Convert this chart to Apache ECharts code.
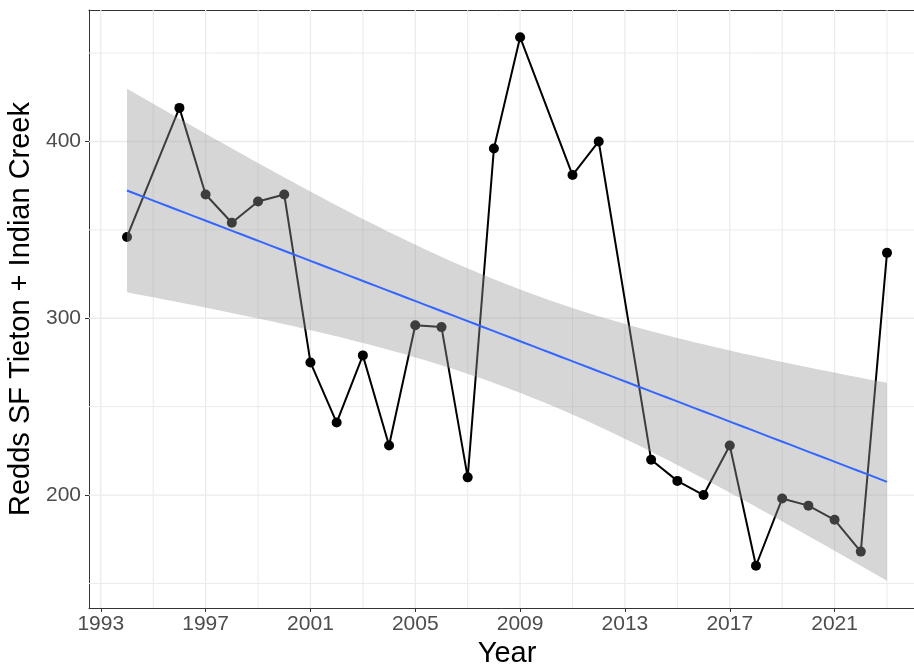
<!DOCTYPE html>
<html>
<head>
<meta charset="utf-8">
<script src="https://cdn.jsdelivr.net/npm/echarts@6/dist/echarts.min.js"></script>
<style>
  html, body { margin: 0; padding: 0; background: #ffffff; }
  #chart { width: 914px; height: 665px; }
</style>
</head>
<body>
<div id="chart"></div>
<script>
// Redd counts per survey year (SF Tieton + Indian Creek)
const years = [1994, 1996, 1997, 1998, 1999, 2000, 2001, 2002, 2003, 2004, 2005, 2006, 2007, 2008, 2009,
               2011, 2012, 2014, 2015, 2016, 2017, 2018, 2019, 2020, 2021, 2022, 2023];
const redds = [346, 419, 370, 354, 366, 370, 275, 241, 279, 228, 296, 295, 210, 396, 459,
               381, 400, 220, 208, 200, 228, 160, 198, 194, 186, 168, 337];

// Axis ticks and grid positions
const xMajorTicks = [1993, 1997, 2001, 2005, 2009, 2013, 2017, 2021];
const xMinorGrid = [1995, 1999, 2003, 2007, 2011, 2015, 2019, 2023];
const yMajorTicks = [200, 300, 400];
const yMinorGrid = [150, 250, 350, 450];

// Ordinary least squares fit with a 95% confidence band, evaluated on a fine grid
function linearFit(xs, ys, steps) {
  const n = xs.length;
  const mx = xs.reduce((s, v) => s + v, 0) / n;
  const my = ys.reduce((s, v) => s + v, 0) / n;
  let sxx = 0, sxy = 0;
  for (let i = 0; i < n; i++) {
    sxx += (xs[i] - mx) * (xs[i] - mx);
    sxy += (xs[i] - mx) * (ys[i] - my);
  }
  const b = sxy / sxx;
  const a = my - b * mx;
  let rss = 0;
  for (let i = 0; i < n; i++) {
    const r = ys[i] - (a + b * xs[i]);
    rss += r * r;
  }
  const s = Math.sqrt(rss / (n - 2));
  const tq = 2.059539; // t quantile 0.975, 25 degrees of freedom
  const x0 = Math.min(...xs), x1 = Math.max(...xs);
  const out = [];
  for (let k = 0; k < steps; k++) {
    const x = x0 + (x1 - x0) * k / (steps - 1);
    const fit = a + b * x;
    const se = s * Math.sqrt(1 / n + (x - mx) * (x - mx) / sxx);
    out.push({ x: x, fit: fit, lo: fit - tq * se, hi: fit + tq * se });
  }
  return out;
}

const band = linearFit(years, redds, 80);

// Panel limits with 5% padding on each side
const xLo = Math.min(...years), xHi = Math.max(...years);
const xPad = 0.05 * (xHi - xLo);
const yLoRaw = Math.min(...redds, ...band.map(p => p.lo));
const yHiRaw = Math.max(...redds, ...band.map(p => p.hi));
const yPad = 0.05 * (yHiRaw - yLoRaw);
const xMin = xLo - xPad, xMax = xHi + xPad;
const yMin = yLoRaw - yPad, yMax = yHiRaw + yPad;

const FONT = "'Liberation Sans', Arial, sans-serif";
const BORDER = '#333333';

const chart = echarts.init(document.getElementById('chart'), null, { renderer: 'canvas' });

chart.setOption({
  animation: false,
  backgroundColor: '#ffffff',
  grid: {
    left: 89, top: 10, bottom: 57, width: 836,
    show: false,
    containLabel: false,
    outerBoundsMode: 'none'
  },
  xAxis: [{
    type: 'value', min: xMin, max: xMax, position: 'bottom',
    name: 'Year', nameLocation: 'middle', nameGap: 28,
    nameTextStyle: { color: '#000000', fontSize: 29, fontFamily: FONT },
    axisLine: { show: true, onZero: false, lineStyle: { color: BORDER, width: 1 } },
    axisTick: { show: true, length: 4, lineStyle: { color: BORDER, width: 1 }, customValues: xMajorTicks },
    axisLabel: { color: '#4D4D4D', fontSize: 21, fontFamily: FONT, margin: 6, customValues: xMajorTicks,
                 formatter: v => String(v) },
    splitLine: { show: false }
  }, {
    // top edge of the panel
    type: 'value', min: xMin, max: xMax, position: 'top',
    axisLine: { show: true, onZero: false, lineStyle: { color: BORDER, width: 1 } },
    axisTick: { show: false }, axisLabel: { show: false }, splitLine: { show: false }
  }],
  yAxis: {
    type: 'value', min: yMin, max: yMax,
    name: 'Redds SF Tieton + Indian Creek', nameLocation: 'middle', nameGap: 42,
    nameTextStyle: { color: '#000000', fontSize: 29, fontFamily: FONT },
    axisLine: { show: true, onZero: false, lineStyle: { color: BORDER, width: 1 } },
    axisTick: { show: true, length: 4, lineStyle: { color: BORDER, width: 1 }, customValues: yMajorTicks },
    axisLabel: { color: '#4D4D4D', fontSize: 21, fontFamily: FONT, margin: 8, customValues: yMajorTicks,
                 formatter: v => String(v) },
    splitLine: { show: false }
  },
  series: [
    {
      // panel grid lines
      type: 'custom', z: 1, silent: true,
      data: [[xMin, yMin]],
      renderItem: function (params, api) {
        const children = [];
        const addV = (v, w) => {
          const p0 = api.coord([v, yMin]), p1 = api.coord([v, yMax]);
          children.push({ type: 'line', shape: { x1: p0[0], y1: p0[1], x2: p1[0], y2: p1[1] },
                          style: { stroke: '#EBEBEB', lineWidth: w } });
        };
        const addH = (v, w) => {
          const p0 = api.coord([xMin, v]), p1 = api.coord([xMax, v]);
          children.push({ type: 'line', shape: { x1: p0[0], y1: p0[1], x2: p1[0], y2: p1[1] },
                          style: { stroke: '#EBEBEB', lineWidth: w } });
        };
        xMinorGrid.forEach(v => addV(v, 1));
        yMinorGrid.forEach(v => addH(v, 1));
        xMajorTicks.forEach(v => addV(v, 1.3));
        yMajorTicks.forEach(v => addH(v, 1.3));
        return { type: 'group', children: children };
      }
    },
    {
      // observed counts
      type: 'line', z: 2, silent: true,
      data: years.map((y, i) => [y, redds[i]]),
      symbol: 'circle', symbolSize: 10, showSymbol: true,
      itemStyle: { color: '#000000' },
      lineStyle: { color: '#000000', width: 2 }
    },
    {
      // confidence band of the linear trend
      type: 'custom', z: 3, silent: true,
      data: band.map(p => [p.x, p.lo, p.hi]),
      encode: { x: 0, y: [1, 2] },
      renderItem: function (params, api) {
        if (params.dataIndex !== 0) return null;
        const pts = [];
        band.forEach(p => pts.push(api.coord([p.x, p.hi])));
        for (let k = band.length - 1; k >= 0; k--) pts.push(api.coord([band[k].x, band[k].lo]));
        return { type: 'polygon', shape: { points: pts }, style: { fill: 'rgba(153,153,153,0.4)' } };
      }
    },
    {
      // linear trend
      type: 'line', z: 4, silent: true,
      data: band.map(p => [p.x, p.fit]),
      showSymbol: false, symbol: 'none',
      lineStyle: { color: '#3366FF', width: 2 }
    }
  ]
});
</script>
</body>
</html>
